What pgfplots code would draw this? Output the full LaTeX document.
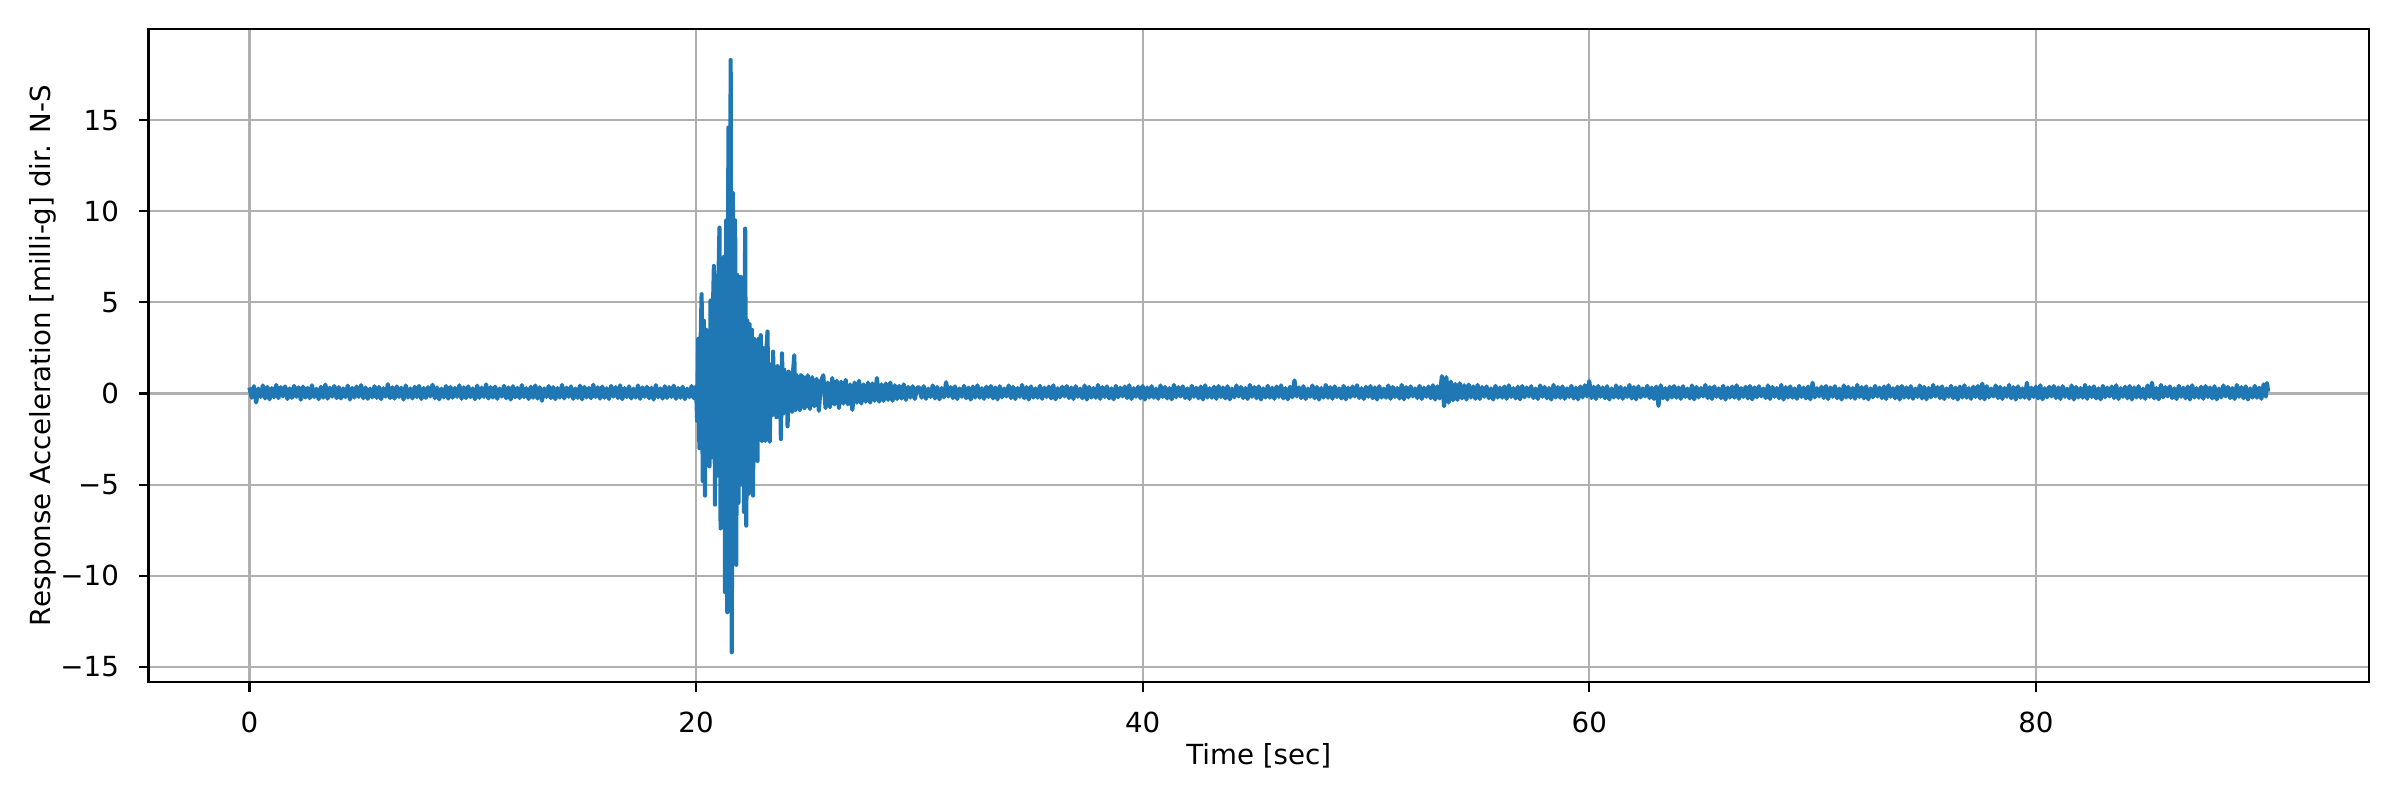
\documentclass[border=0pt]{standalone}
\usepackage{pgfplots}
\pgfplotsset{compat=1.18}
\usepackage{fontspec}
\setmainfont{DejaVu Sans}
\definecolor{mplblue}{RGB}{31,119,180}
\definecolor{gridgray}{RGB}{176,176,176}
\begin{document}
\begin{tikzpicture}
\begin{axis}[
  at={(0,0)}, anchor=south west,
  scale only axis, width=11.1025in, height=3.265in,
  xmin=-4.52, xmax=94.92, ymin=-15.83, ymax=20.0,
  xtick={0,20,40,60,80},
  ytick={-15,-10,-5,0,5,10,15},
  yticklabels={−15,−10,−5,0,5,10,15},
  /pgf/number format/assume math mode=true,
  grid=major,
  major grid style={color=gridgray, line width=0.8pt},
  axis line style={line width=0.8pt},
  tick align=outside, major tick length=3.5pt,
  tick style={black, line width=0.8pt},
  xtick pos=lower, ytick pos=left,
  tick label style={font=\fontsize{10}{12}\selectfont, inner sep=0pt},
  xticklabel shift=7pt, yticklabel shift=7pt,
  xlabel={Time [sec]},
  ylabel={Response Acceleration [milli-g] dir. N-S},
  label style={font=\fontsize{10}{12}\selectfont},
  every axis x label/.style={at={(axis description cs:0.5,-0.1127)}, anchor=center},
  every axis y label/.style={at={(axis description cs:-0.0474,0.5)}, anchor=center, rotate=90},
]
\addplot[mplblue, line width=1.5pt, line join=round, mark=none] coordinates {
(0.0,0.33)(0.1,-0.23)(0.2,0.40)(0.3,-0.49)(0.4,0.27)(0.5,-0.19)(0.6,0.44)(0.7,-0.27)(0.8,0.36)(0.9,-0.32)
(1.0,0.30)(1.1,-0.21)(1.2,0.47)(1.3,-0.25)(1.4,0.35)(1.5,-0.16)(1.6,0.39)(1.7,-0.30)(1.8,0.28)(1.9,-0.24)
(2.0,0.42)(2.1,-0.18)(2.2,0.34)(2.3,-0.34)(2.4,0.38)(2.5,-0.22)(2.6,0.31)(2.7,-0.26)(2.8,0.45)(2.9,-0.20)
(3.0,0.26)(3.1,-0.31)(3.2,0.37)(3.3,-0.23)(3.4,0.49)(3.5,-0.28)(3.6,0.32)(3.7,-0.17)(3.8,0.41)(3.9,-0.25)
(4.0,0.35)(4.1,-0.27)(4.2,0.28)(4.3,-0.20)(4.4,0.43)(4.5,-0.33)(4.6,0.31)(4.7,-0.22)(4.8,0.38)(4.9,-0.18)
(5.0,0.46)(5.1,-0.26)(5.2,0.33)(5.3,-0.29)(5.4,0.27)(5.5,-0.21)(5.6,0.40)(5.7,-0.24)(5.8,0.36)(5.9,-0.31)
(6.0,0.29)(6.1,-0.17)(6.2,0.51)(6.3,-0.25)(6.4,0.34)(6.5,-0.28)(6.6,0.39)(6.7,-0.19)(6.8,0.32)(6.9,-0.33)
(7.0,0.44)(7.1,-0.22)(7.2,0.28)(7.3,-0.27)(7.4,0.37)(7.5,-0.20)(7.6,0.42)(7.7,-0.30)(7.8,0.30)(7.9,-0.24)
(8.0,0.35)(8.1,-0.16)(8.2,0.48)(8.3,-0.26)(8.4,0.33)(8.5,-0.32)(8.6,0.27)(8.7,-0.21)(8.8,0.41)(8.9,-0.28)
(9.0,0.36)(9.1,-0.23)(9.2,0.31)(9.3,-0.18)(9.4,0.45)(9.5,-0.29)(9.6,0.34)(9.7,-0.25)(9.8,0.39)(9.9,-0.20)
(10.0,0.28)(10.1,-0.31)(10.2,0.43)(10.3,-0.24)(10.4,0.32)(10.5,-0.19)(10.6,0.50)(10.7,-0.27)(10.8,0.35)(10.9,-0.22)
(11.0,0.38)(11.1,-0.29)(11.2,0.27)(11.3,-0.17)(11.4,0.42)(11.5,-0.26)(11.6,0.33)(11.7,-0.33)(11.8,0.40)(11.9,-0.21)
(12.0,0.31)(12.1,-0.25)(12.2,0.46)(12.3,-0.20)(12.4,0.29)(12.5,-0.30)(12.6,0.37)(12.7,-0.23)(12.8,0.44)(12.9,-0.28)
(13.0,0.34)(13.1,-0.40)(13.2,0.28)(13.3,-0.19)(13.4,0.41)(13.5,-0.25)(13.6,0.35)(13.7,-0.31)(13.8,0.30)(13.9,-0.22)
(14.0,0.47)(14.1,-0.27)(14.2,0.32)(14.3,-0.18)(14.4,0.39)(14.5,-0.29)(14.6,0.27)(14.7,-0.24)(14.8,0.43)(14.9,-0.32)
(15.0,0.36)(15.1,-0.21)(15.2,0.31)(15.3,-0.26)(15.4,0.48)(15.5,-0.19)(15.6,0.34)(15.7,-0.28)(15.8,0.38)(15.9,-0.23)
(16.0,0.29)(16.1,-0.30)(16.2,0.42)(16.3,-0.17)(16.4,0.35)(16.5,-0.25)(16.6,0.45)(16.7,-0.31)(16.8,0.30)(16.9,-0.20)
(17.0,0.39)(17.1,-0.27)(17.2,0.27)(17.3,-0.22)(17.4,0.44)(17.5,-0.29)(17.6,0.33)(17.7,-0.18)(17.8,0.37)(17.9,-0.26)
(18.0,0.32)(18.1,-0.33)(18.2,0.46)(18.3,-0.21)(18.4,0.28)(18.5,-0.28)(18.6,0.40)(18.7,-0.24)(18.8,0.35)(18.9,-0.19)
(19.0,0.43)(19.1,-0.29)(19.2,0.30)(19.3,-0.23)(19.4,0.37)(19.5,-0.31)(19.6,0.27)(19.7,-0.20)(19.8,0.41)(19.9,-0.26)
(20.00,0.4)(20.05,-1.5)(20.10,3.0)(20.15,-3.0)(20.20,2.5)(20.25,5.45)(20.30,-4.8)(20.35,4.0)(20.40,-5.6)(20.45,3.5)
(20.50,-3.2)(20.55,2.8)(20.60,-4.0)(20.65,5.1)(20.70,-3.5)(20.75,4.2)(20.80,7.0)(20.85,-6.1)(20.90,4.5)(20.95,-4.5)
(21.00,6.0)(21.05,9.1)(21.10,-7.4)(21.15,5.5)(21.20,-6.0)(21.25,7.5)(21.30,-10.9)(21.35,9.5)(21.40,-12.0)(21.45,14.6)
(21.50,-9.0)(21.55,18.3)(21.60,-14.2)(21.65,11.0)(21.70,-8.5)(21.75,9.5)(21.80,-9.4)(21.85,6.5)(21.90,-6.0)(21.95,5.5)
(22.00,6.4)(22.05,-5.0)(22.10,4.5)(22.15,-6.5)(22.20,9.05)(22.25,-7.25)(22.30,4.0)(22.35,-5.5)(22.40,3.8)(22.45,-4.0)
(22.50,3.5)(22.55,-5.6)(22.60,3.0)(22.65,-3.2)(22.70,2.8)(22.75,-3.7)(22.80,3.0)(22.85,-2.5)(22.90,3.2)(22.95,-2.6)
(23.00,2.5)(23.05,-2.0)(23.10,-2.6)(23.15,2.2)(23.20,3.4)(23.25,-1.8)(23.30,-2.65)(23.35,1.6)(23.40,-1.2)(23.45,2.3)
(23.50,-1.1)(23.55,1.4)(23.60,-1.3)(23.65,1.5)(23.70,-1.0)(23.75,1.2)(23.80,-2.5)(23.85,2.2)(23.90,-1.1)(23.95,1.3)
(24.00,-1.0)(24.05,1.1)(24.10,-1.8)(24.15,1.2)(24.20,-0.9)(24.25,1.0)(24.30,-1.0)(24.35,1.3)(24.40,2.1)(24.45,-0.9)
(24.50,1.0)(24.55,-0.8)(24.60,0.9)(24.65,-0.9)(24.70,1.0)(24.75,-0.7)(24.80,0.9)(24.85,-0.8)(24.90,0.85)(24.95,-0.7)
(25.0,1.0)(25.1,-0.85)(25.2,0.9)(25.3,-0.7)(25.4,0.8)(25.5,-0.95)(25.6,0.7)(25.7,1.0)(25.8,-0.8)(25.9,0.6)
(26.0,-0.75)(26.1,0.85)(26.2,-0.6)(26.3,0.7)(26.4,-0.8)(26.5,0.65)(26.6,-0.55)(26.7,0.75)(26.8,-0.6)(26.9,0.5)
(27.0,-0.9)(27.1,0.6)(27.2,-0.5)(27.3,0.7)(27.4,-0.55)(27.5,0.5)(27.6,-0.45)(27.7,0.6)(27.8,-0.5)(27.9,0.55)
(28.0,-0.4)(28.1,0.85)(28.2,-0.45)(28.3,0.5)(28.4,-0.4)(28.5,0.55)(28.6,-0.35)(28.7,0.6)(28.8,-0.4)(28.9,0.45)
(29.0,-0.3)(29.1,0.42)(29.2,-0.28)(29.3,0.5)(29.4,-0.35)(29.5,0.36)(29.6,-0.22)(29.7,0.4)(29.8,-0.3)(29.9,0.33)
(30.0,0.33)(30.1,-0.23)(30.2,0.40)(30.3,-0.29)(30.4,0.27)(30.5,-0.19)(30.6,0.44)(30.7,-0.27)(30.8,0.36)(30.9,-0.32)
(31.0,0.30)(31.1,-0.21)(31.2,0.62)(31.3,-0.16)(31.4,0.35)(31.5,-0.25)(31.6,0.39)(31.7,-0.30)(31.8,0.28)(31.9,-0.18)
(32.0,0.42)(32.1,-0.26)(32.2,0.32)(32.3,-0.33)(32.4,0.38)(32.5,-0.22)(32.6,0.45)(32.7,-0.23)(32.8,0.29)(32.9,-0.29)
(33.0,0.37)(33.1,-0.19)(33.2,0.41)(33.3,-0.27)(33.4,0.33)(33.5,-0.32)(33.6,0.40)(33.7,-0.21)(33.8,0.27)(33.9,-0.16)
(34.0,0.44)(34.1,-0.25)(34.2,0.36)(34.3,-0.30)(34.4,0.30)(34.5,-0.18)(34.6,0.47)(34.7,-0.26)(34.8,0.35)(34.9,-0.33)
(35.0,0.39)(35.1,-0.22)(35.2,0.28)(35.3,-0.23)(35.4,0.42)(35.5,-0.29)(35.6,0.32)(35.7,-0.19)(35.8,0.38)(35.9,-0.27)
(36.0,0.45)(36.1,-0.32)(36.2,0.29)(36.3,-0.21)(36.4,0.37)(36.5,-0.16)(36.6,0.41)(36.7,-0.25)(36.8,0.33)(36.9,-0.30)
(37.0,0.40)(37.1,-0.18)(37.2,0.27)(37.3,-0.26)(37.4,0.44)(37.5,-0.33)(37.6,0.36)(37.7,-0.22)(37.8,0.30)(37.9,-0.23)
(38.0,0.47)(38.1,-0.29)(38.2,0.35)(38.3,-0.19)(38.4,0.39)(38.5,-0.27)(38.6,0.28)(38.7,-0.32)(38.8,0.42)(38.9,-0.21)
(39.0,0.32)(39.1,-0.16)(39.2,0.38)(39.3,-0.25)(39.4,0.45)(39.5,-0.30)(39.6,0.29)(39.7,-0.18)(39.8,0.37)(39.9,-0.26)
(40.0,0.41)(40.1,-0.33)(40.2,0.33)(40.3,-0.22)(40.4,0.40)(40.5,-0.23)(40.6,0.27)(40.7,-0.29)(40.8,0.44)(40.9,-0.19)
(41.0,0.36)(41.1,-0.27)(41.2,0.30)(41.3,-0.32)(41.4,0.47)(41.5,-0.21)(41.6,0.35)(41.7,-0.16)(41.8,0.39)(41.9,-0.25)
(42.0,0.28)(42.1,-0.30)(42.2,0.42)(42.3,-0.18)(42.4,0.32)(42.5,-0.26)(42.6,0.38)(42.7,-0.33)(42.8,0.45)(42.9,-0.22)
(43.0,0.29)(43.1,-0.23)(43.2,0.37)(43.3,-0.29)(43.4,0.41)(43.5,-0.19)(43.6,0.33)(43.7,-0.27)(43.8,0.40)(43.9,-0.32)
(44.0,0.27)(44.1,-0.21)(44.2,0.44)(44.3,-0.16)(44.4,0.36)(44.5,-0.25)(44.6,0.30)(44.7,-0.30)(44.8,0.47)(44.9,-0.18)
(45.0,0.35)(45.1,-0.26)(45.2,0.39)(45.3,-0.33)(45.4,0.28)(45.5,-0.22)(45.6,0.42)(45.7,-0.23)(45.8,0.32)(45.9,-0.29)
(46.0,0.38)(46.1,-0.19)(46.2,0.45)(46.3,-0.27)(46.4,0.29)(46.5,-0.32)(46.6,0.37)(46.7,-0.21)(46.8,0.72)(46.9,-0.16)
(47.0,0.33)(47.1,-0.25)(47.2,0.40)(47.3,-0.30)(47.4,0.27)(47.5,-0.18)(47.6,0.44)(47.7,-0.26)(47.8,0.36)(47.9,-0.33)
(48.0,0.30)(48.1,-0.22)(48.2,0.47)(48.3,-0.23)(48.4,0.35)(48.5,-0.29)(48.6,0.39)(48.7,-0.19)(48.8,0.28)(48.9,-0.27)
(49.0,0.42)(49.1,-0.32)(49.2,0.32)(49.3,-0.21)(49.4,0.38)(49.5,-0.16)(49.6,0.45)(49.7,-0.25)(49.8,0.29)(49.9,-0.30)
(50.0,0.37)(50.1,-0.18)(50.2,0.41)(50.3,-0.26)(50.4,0.33)(50.5,-0.33)(50.6,0.40)(50.7,-0.22)(50.8,0.27)(50.9,-0.23)
(51.0,0.44)(51.1,-0.29)(51.2,0.36)(51.3,-0.19)(51.4,0.30)(51.5,-0.27)(51.6,0.47)(51.7,-0.32)(51.8,0.35)(51.9,-0.21)
(52.0,0.39)(52.1,-0.16)(52.2,0.28)(52.3,-0.25)(52.4,0.42)(52.5,-0.30)(52.6,0.32)(52.7,-0.18)(52.8,0.38)(52.9,-0.26)
(53.0,0.45)(53.1,-0.33)(53.2,0.39)(53.3,-0.27)(53.4,0.95)(53.5,-0.70)(53.6,0.90)(53.7,-0.50)(53.8,0.65)(53.9,-0.37)
(54.0,0.52)(54.1,-0.35)(54.2,0.56)(54.3,-0.27)(54.4,0.45)(54.5,-0.33)(54.6,0.49)(54.7,-0.22)(54.8,0.39)(54.9,-0.29)
(55.0,0.47)(55.1,-0.30)(55.2,0.35)(55.3,-0.18)(55.4,0.39)(55.5,-0.26)(55.6,0.28)(55.7,-0.33)(55.8,0.42)(55.9,-0.22)
(56.0,0.32)(56.1,-0.23)(56.2,0.38)(56.3,-0.29)(56.4,0.45)(56.5,-0.19)(56.6,0.29)(56.7,-0.27)(56.8,0.37)(56.9,-0.32)
(57.0,0.41)(57.1,-0.21)(57.2,0.33)(57.3,-0.16)(57.4,0.40)(57.5,-0.25)(57.6,0.27)(57.7,-0.30)(57.8,0.44)(57.9,-0.18)
(58.0,0.36)(58.1,-0.26)(58.2,0.30)(58.3,-0.33)(58.4,0.47)(58.5,-0.22)(58.6,0.35)(58.7,-0.23)(58.8,0.39)(58.9,-0.29)
(59.0,0.28)(59.1,-0.19)(59.2,0.42)(59.3,-0.27)(59.4,0.32)(59.5,-0.32)(59.6,0.38)(59.7,-0.21)(59.8,0.45)(59.9,-0.16)
(60.0,0.68)(60.1,-0.25)(60.2,0.37)(60.3,-0.30)(60.4,0.41)(60.5,-0.18)(60.6,0.33)(60.7,-0.26)(60.8,0.40)(60.9,-0.33)
(61.0,0.27)(61.1,-0.22)(61.2,0.44)(61.3,-0.23)(61.4,0.36)(61.5,-0.29)(61.6,0.30)(61.7,-0.19)(61.8,0.47)(61.9,-0.27)
(62.0,0.35)(62.1,-0.32)(62.2,0.39)(62.3,-0.21)(62.4,0.28)(62.5,-0.16)(62.6,0.42)(62.7,-0.25)(62.8,0.32)(62.9,-0.30)
(63.0,0.38)(63.1,-0.68)(63.2,0.45)(63.3,-0.26)(63.4,0.29)(63.5,-0.33)(63.6,0.37)(63.7,-0.22)(63.8,0.41)(63.9,-0.23)
(64.0,0.33)(64.1,-0.29)(64.2,0.40)(64.3,-0.19)(64.4,0.27)(64.5,-0.27)(64.6,0.44)(64.7,-0.32)(64.8,0.36)(64.9,-0.21)
(65.0,0.30)(65.1,-0.16)(65.2,0.47)(65.3,-0.25)(65.4,0.35)(65.5,-0.30)(65.6,0.39)(65.7,-0.18)(65.8,0.28)(65.9,-0.26)
(66.0,0.42)(66.1,-0.33)(66.2,0.32)(66.3,-0.22)(66.4,0.38)(66.5,-0.23)(66.6,0.45)(66.7,-0.29)(66.8,0.29)(66.9,-0.19)
(67.0,0.37)(67.1,-0.27)(67.2,0.41)(67.3,-0.32)(67.4,0.33)(67.5,-0.21)(67.6,0.40)(67.7,-0.16)(67.8,0.27)(67.9,-0.25)
(68.0,0.44)(68.1,-0.30)(68.2,0.36)(68.3,-0.18)(68.4,0.30)(68.5,-0.26)(68.6,0.47)(68.7,-0.33)(68.8,0.35)(68.9,-0.22)
(69.0,0.39)(69.1,-0.23)(69.2,0.28)(69.3,-0.29)(69.4,0.42)(69.5,-0.19)(69.6,0.32)(69.7,-0.27)(69.8,0.38)(69.9,-0.32)
(70.0,0.59)(70.1,-0.21)(70.2,0.29)(70.3,-0.16)(70.4,0.37)(70.5,-0.25)(70.6,0.41)(70.7,-0.30)(70.8,0.33)(70.9,-0.18)
(71.0,0.40)(71.1,-0.26)(71.2,0.27)(71.3,-0.33)(71.4,0.44)(71.5,-0.22)(71.6,0.36)(71.7,-0.23)(71.8,0.30)(71.9,-0.29)
(72.0,0.47)(72.1,-0.19)(72.2,0.35)(72.3,-0.27)(72.4,0.39)(72.5,-0.32)(72.6,0.28)(72.7,-0.21)(72.8,0.42)(72.9,-0.16)
(73.0,0.32)(73.1,-0.25)(73.2,0.38)(73.3,-0.30)(73.4,0.45)(73.5,-0.18)(73.6,0.29)(73.7,-0.26)(73.8,0.37)(73.9,-0.33)
(74.0,0.41)(74.1,-0.22)(74.2,0.33)(74.3,-0.23)(74.4,0.40)(74.5,-0.29)(74.6,0.27)(74.7,-0.19)(74.8,0.44)(74.9,-0.27)
(75.0,0.36)(75.1,-0.32)(75.2,0.30)(75.3,-0.21)(75.4,0.47)(75.5,-0.16)(75.6,0.35)(75.7,-0.25)(75.8,0.39)(75.9,-0.30)
(76.0,0.28)(76.1,-0.18)(76.2,0.42)(76.3,-0.26)(76.4,0.32)(76.5,-0.33)(76.6,0.38)(76.7,-0.22)(76.8,0.45)(76.9,-0.23)
(77.0,0.29)(77.1,-0.29)(77.2,0.37)(77.3,-0.19)(77.4,0.41)(77.5,-0.27)(77.6,0.54)(77.7,-0.32)(77.8,0.40)(77.9,-0.21)
(78.0,0.27)(78.1,-0.16)(78.2,0.44)(78.3,-0.25)(78.4,0.36)(78.5,-0.30)(78.6,0.30)(78.7,-0.18)(78.8,0.47)(78.9,-0.26)
(79.0,0.35)(79.1,-0.33)(79.2,0.39)(79.3,-0.22)(79.4,0.28)(79.5,-0.23)(79.6,0.59)(79.7,-0.29)(79.8,0.32)(79.9,-0.19)
(80.0,0.38)(80.1,-0.27)(80.2,0.45)(80.3,-0.32)(80.4,0.29)(80.5,-0.21)(80.6,0.37)(80.7,-0.16)(80.8,0.41)(80.9,-0.25)
(81.0,0.33)(81.1,-0.30)(81.2,0.40)(81.3,-0.18)(81.4,0.27)(81.5,-0.26)(81.6,0.44)(81.7,-0.33)(81.8,0.36)(81.9,-0.22)
(82.0,0.30)(82.1,-0.23)(82.2,0.47)(82.3,-0.29)(82.4,0.35)(82.5,-0.19)(82.6,0.39)(82.7,-0.27)(82.8,0.28)(82.9,-0.32)
(83.0,0.42)(83.1,-0.21)(83.2,0.32)(83.3,-0.16)(83.4,0.38)(83.5,-0.25)(83.6,0.45)(83.7,-0.30)(83.8,0.29)(83.9,-0.18)
(84.0,0.37)(84.1,-0.26)(84.2,0.41)(84.3,-0.33)(84.4,0.33)(84.5,-0.22)(84.6,0.40)(84.7,-0.23)(84.8,0.27)(84.9,-0.29)
(85.0,0.44)(85.1,-0.19)(85.2,0.59)(85.3,-0.27)(85.4,0.30)(85.5,-0.32)(85.6,0.47)(85.7,-0.21)(85.8,0.35)(85.9,-0.16)
(86.0,0.39)(86.1,-0.25)(86.2,0.28)(86.3,-0.30)(86.4,0.42)(86.5,-0.18)(86.6,0.32)(86.7,-0.26)(86.8,0.38)(86.9,-0.33)
(87.0,0.45)(87.1,-0.22)(87.2,0.29)(87.3,-0.23)(87.4,0.37)(87.5,-0.29)(87.6,0.41)(87.7,-0.19)(87.8,0.33)(87.9,-0.27)
(88.0,0.40)(88.1,-0.32)(88.2,0.27)(88.3,-0.21)(88.4,0.44)(88.5,-0.16)(88.6,0.36)(88.7,-0.25)(88.8,0.30)(88.9,-0.30)
(89.0,0.47)(89.1,-0.18)(89.2,0.35)(89.3,-0.26)(89.4,0.39)(89.5,-0.33)(89.6,0.28)(89.7,-0.22)(89.8,0.42)(89.9,-0.23)
(90.0,0.32)(90.1,-0.29)(90.2,0.50)(90.3,-0.17)(90.35,0.58)(90.4,0.10)
};
\end{axis}
\pgfresetboundingbox
\path (-0.7425in,-0.59in) rectangle (11.2575in,3.41in);
\end{tikzpicture}
\end{document}
